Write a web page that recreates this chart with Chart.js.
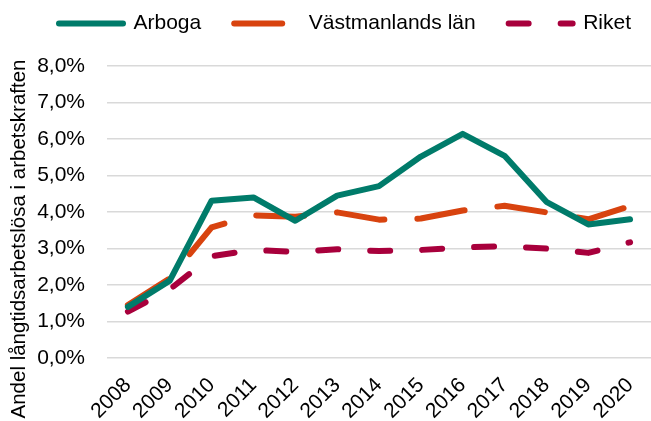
<!DOCTYPE html>
<html>
<head>
<meta charset="utf-8">
<script src="https://cdn.jsdelivr.net/npm/chart.js@4"></script>
<style>
  html, body { margin: 0; padding: 0; background: #fff; }
  #wrap { width: 651px; height: 421px; }
</style>
</head>
<body>
<div id="wrap"><canvas id="chart"></canvas></div>
<script>
// Chart data
const years = ['2008', '2009', '2010', '2011', '2012', '2013', '2014', '2015', '2016', '2017', '2018', '2019', '2020'];
const arboga = [1.40, 2.12, 4.31, 4.40, 3.76, 4.45, 4.71, 5.52, 6.14, 5.54, 4.28, 3.66, 3.80];
const vastmanland = [1.45, 2.18, 3.58, 3.91, 3.87, 3.99, 3.79, 3.82, 4.04, 4.17, 3.99, 3.80, 4.16];
const riket = [1.27, 1.88, 2.79, 2.96, 2.91, 2.98, 2.93, 2.96, 3.03, 3.06, 3.00, 2.88, 3.17];
const yTicks = [0, 1, 2, 3, 4, 5, 6, 7, 8];
const yTitle = 'Andel långtidsarbetslösa i arbetskraften';

const font = 'Arial, "Liberation Sans", sans-serif';

// legend: fixed height, nudged up/right so it sits like the original
const legendPlace = {
    id: 'legendPlace',
    beforeInit(chart) {
        const fit = chart.legend.fit;
        chart.legend.fit = function () {
            fit.call(this);
            this.height = 66;
        };
    },
    afterLayout(chart) {
        const lg = chart.legend;
        lg.top -= 20;
        lg.bottom -= 20;
        lg.left += 20;
        lg.right += 20;
    }
};

// y axis title sits lower than the axis centre in the original
const yTitlePlugin = {
    id: 'yTitle',
    afterDraw(chart) {
        const ctx = chart.ctx;
        ctx.save();
        ctx.translate(19, 239);
        ctx.rotate(-Math.PI / 2);
        ctx.font = '20.5px ' + font;
        ctx.fillStyle = '#000';
        ctx.textAlign = 'center';
        ctx.textBaseline = 'middle';
        ctx.fillText(yTitle, 0, 0);
        ctx.restore();
    }
};

new Chart(document.getElementById('chart'), {
    type: 'line',
    data: {
        labels: years,
        datasets: [{
            label: 'Arboga',
            data: arboga,
            borderColor: '#007B6A',
            backgroundColor: '#007B6A',
            borderWidth: 6,
            borderCapStyle: 'round',
            borderJoinStyle: 'round',
            pointRadius: 0,
            tension: 0
        }, {
            label: 'Västmanlands län',
            data: vastmanland,
            borderColor: '#D8430F',
            backgroundColor: '#D8430F',
            borderWidth: 6,
            borderDash: [48, 33],
            borderCapStyle: 'round',
            borderJoinStyle: 'round',
            pointRadius: 0,
            tension: 0
        }, {
            label: 'Riket',
            data: riket,
            borderColor: '#A8003C',
            backgroundColor: '#A8003C',
            borderWidth: 6,
            borderDash: [20, 32],
            borderCapStyle: 'round',
            borderJoinStyle: 'round',
            pointRadius: 0,
            tension: 0
        }]
    },
    options: {
        responsive: true,
        maintainAspectRatio: false,
        animation: false,
        layout: { padding: { left: 6, right: 0, top: 0, bottom: 0 } },
        plugins: {
            legend: {
                position: 'top',
                align: 'start',
                labels: {
                    usePointStyle: true,
                    pointStyleWidth: 64,
                    boxHeight: 21,
                    padding: 33,
                    color: '#000',
                    font: { family: font, size: 21 },
                    generateLabels: chart => chart.data.datasets.map((ds, i) => ({
                        text: ds.label,
                        fillStyle: ds.borderColor,
                        strokeStyle: ds.borderColor,
                        fontColor: '#000',
                        lineWidth: ds.borderWidth,
                        lineDash: ds.borderDash || [],
                        lineCap: 'round',
                        pointStyle: 'line',
                        hidden: false,
                        datasetIndex: i
                    }))
                }
            },
            tooltip: { enabled: false }
        },
        scales: {
            x: {
                offset: true,
                grid: { display: false, drawTicks: false },
                border: { display: false },
                ticks: {
                    minRotation: 45,
                    maxRotation: 45,
                    padding: 15,
                    color: '#000',
                    font: { family: font, size: 21 }
                },
                afterFit(scale) {
                    // rotated labels may hang outside the plot, like the original
                    scale.paddingLeft = 0;
                    scale.paddingRight = 0;
                    scale.height = 63;
                }
            },
            y: {
                min: 0,
                max: 8,
                afterBuildTicks(scale) {
                    scale.ticks = yTicks.map(v => ({ value: v }));
                },
                afterFit(scale) {
                    scale.width = 101;
                },
                grid: { color: '#d9d9d9', lineWidth: 1.5, drawTicks: false },
                border: { display: false },
                ticks: {
                    padding: 22,
                    color: '#000',
                    font: { family: font, size: 21 },
                    callback: v => v.toFixed(1).replace('.', ',') + '%'
                }
            }
        }
    },
    plugins: [legendPlace, yTitlePlugin]
});
</script>
</body>
</html>
